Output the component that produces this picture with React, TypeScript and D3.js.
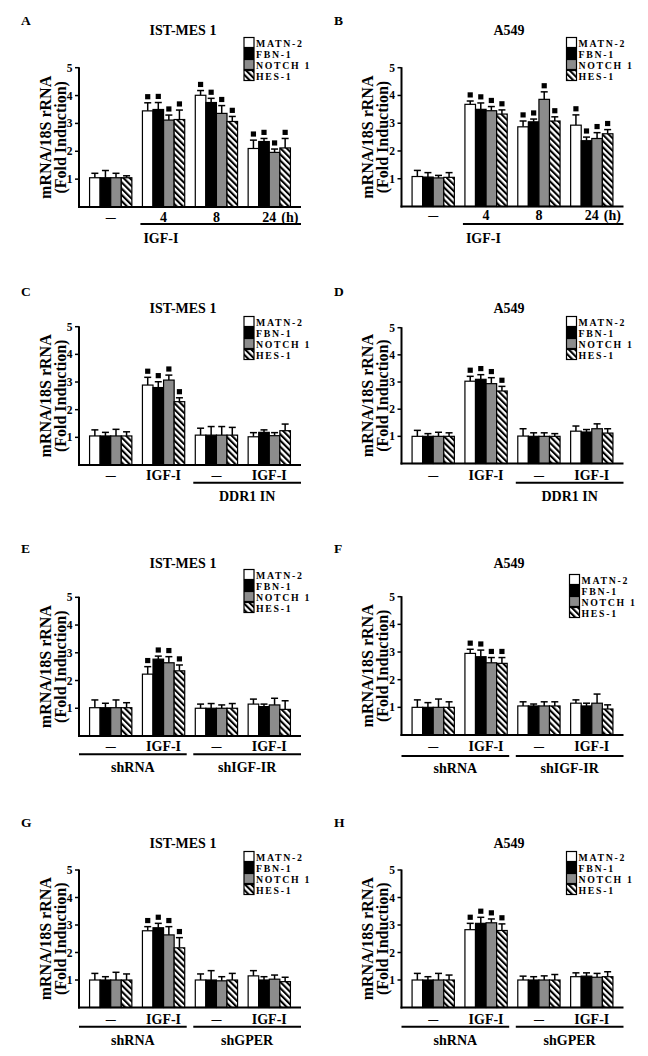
import React from "react";
import * as d3 from "d3";

const FONT = "'Liberation Serif', 'Times New Roman', Times, serif";
const SERIES = ["MATN-2", "FBN-1", "NOTCH 1", "HES-1"];
const FILLS = ["#ffffff", "#000000", "#8c8c8c", "url(#hatch)"];
const Y_TICKS = [1, 2, 3, 4, 5];
const Y_TITLE_1 = "mRNA/18S rRNA";
const Y_TITLE_2 = "(Fold Induction)";

// group (x) labels
const TIME_GROUPS = ["—", "4", "8", "24"];
const TREAT_GROUPS = ["—", "IGF-I", "—", "IGF-I"];

// values: [series][group]
const A_MEAN = [[1.05, 3.45, 4.01, 2.10], [1.05, 3.50, 3.75, 2.35], [1.05, 3.12, 3.36, 1.96], [1.05, 3.14, 3.07, 2.12]];
const A_SEM = [[0.16, 0.29, 0.17, 0.30], [0.26, 0.25, 0.15, 0.11], [0.16, 0.18, 0.28, 0.12], [0.07, 0.34, 0.18, 0.34]];
const B_MEAN = [[1.08, 3.68, 2.87, 2.93], [1.06, 3.50, 3.05, 2.37], [1.03, 3.45, 3.86, 2.45], [1.05, 3.33, 3.08, 2.62]];
const B_SEM = [[0.22, 0.12, 0.21, 0.37], [0.16, 0.23, 0.10, 0.13], [0.09, 0.15, 0.27, 0.21], [0.17, 0.15, 0.15, 0.15]];
const C_MEAN = [[1.05, 2.89, 1.08, 1.02], [1.05, 2.80, 1.08, 1.18], [1.05, 3.07, 1.08, 1.06], [1.05, 2.29, 1.08, 1.24]];
const C_SEM = [[0.22, 0.28, 0.25, 0.15], [0.13, 0.21, 0.31, 0.09], [0.24, 0.18, 0.31, 0.11], [0.15, 0.14, 0.28, 0.24]];
const D_MEAN = [[1.00, 3.03, 1.01, 1.19], [1.00, 3.10, 1.00, 1.16], [1.00, 2.94, 1.00, 1.28], [1.00, 2.67, 1.00, 1.12]];
const D_SEM = [[0.22, 0.18, 0.27, 0.19], [0.10, 0.17, 0.13, 0.09], [0.15, 0.22, 0.13, 0.18], [0.13, 0.17, 0.10, 0.16]];
const E_MEAN = [[1.02, 2.23, 1.00, 1.15], [1.02, 2.77, 1.00, 1.06], [1.02, 2.64, 1.00, 1.12], [1.02, 2.35, 1.00, 0.96]];
const E_SEM = [[0.28, 0.27, 0.15, 0.18], [0.16, 0.11, 0.17, 0.09], [0.28, 0.22, 0.12, 0.24], [0.18, 0.21, 0.17, 0.31]];
const F_MEAN = [[1.00, 2.95, 1.05, 1.15], [1.00, 2.83, 1.05, 1.05], [1.00, 2.61, 1.05, 1.15], [1.00, 2.59, 1.05, 0.94]];
const F_SEM = [[0.27, 0.15, 0.15, 0.12], [0.17, 0.24, 0.07, 0.10], [0.30, 0.19, 0.15, 0.33], [0.20, 0.21, 0.15, 0.15]];
const G_MEAN = [[1.00, 2.79, 1.00, 1.15], [1.00, 2.90, 1.00, 1.00], [1.00, 2.64, 0.97, 1.03], [1.00, 2.17, 1.00, 0.94]];
const G_SEM = [[0.24, 0.15, 0.22, 0.19], [0.12, 0.16, 0.34, 0.12], [0.28, 0.30, 0.15, 0.15], [0.22, 0.37, 0.24, 0.16]];
const H_MEAN = [[1.00, 2.83, 1.00, 1.12], [1.00, 3.06, 1.00, 1.14], [1.00, 3.08, 1.00, 1.10], [1.00, 2.80, 1.00, 1.12]];
const H_SEM = [[0.24, 0.23, 0.14, 0.14], [0.12, 0.22, 0.12, 0.12], [0.24, 0.14, 0.15, 0.14], [0.18, 0.24, 0.20, 0.18]];

// significance per group
const SIG_TIME = [false, true, true, true];
const SIG_IGF = [false, true, false, false];

type Bracket = { from: number; to: number; label: string; align: "start" | "middle" };

const BR_TIME: Bracket[] = [{ from: 1, to: 3, label: "IGF-I", align: "start" }];
const BR_DDR: Bracket[] = [{ from: 2, to: 3, label: "DDR1 IN", align: "middle" }];
const BR_SHIGF: Bracket[] = [
  { from: 0, to: 1, label: "shRNA", align: "middle" },
  { from: 2, to: 3, label: "shIGF-IR", align: "middle" },
];
const BR_SHGPER: Bracket[] = [
  { from: 0, to: 1, label: "shRNA", align: "middle" },
  { from: 2, to: 3, label: "shGPER", align: "middle" },
];

const PANELS = [
  { letter: "A", title: "IST-MES 1", groups: TIME_GROUPS, unit: true, mean: A_MEAN, sem: A_SEM, sig: SIG_TIME, brackets: BR_TIME,
    col: 0, letterY: 20, titleY: 30, legendTop: 37.5, y5: 67.7, y0: 207, xLabelY: 217, bracketY: 224, bracketLabelY: 238 },
  { letter: "B", title: "A549", groups: TIME_GROUPS, unit: true, mean: B_MEAN, sem: B_SEM, sig: SIG_TIME, brackets: BR_TIME,
    col: 1, letterY: 20, titleY: 30, legendTop: 37.5, y5: 67.7, y0: 206.5, xLabelY: 215, bracketY: 224, bracketLabelY: 238 },
  { letter: "C", title: "IST-MES 1", groups: TREAT_GROUPS, unit: false, mean: C_MEAN, sem: C_SEM, sig: SIG_IGF, brackets: BR_DDR,
    col: 0, letterY: 291.7, titleY: 308, legendTop: 316.5, y5: 326.7, y0: 465, xLabelY: 475, bracketY: 482.7, bracketLabelY: 496.7 },
  { letter: "D", title: "A549", groups: TREAT_GROUPS, unit: false, mean: D_MEAN, sem: D_SEM, sig: SIG_IGF, brackets: BR_DDR,
    col: 1, letterY: 291.7, titleY: 308, legendTop: 316.5, y5: 327.7, y0: 463.5, xLabelY: 475, bracketY: 482.7, bracketLabelY: 496.7 },
  { letter: "E", title: "IST-MES 1", groups: TREAT_GROUPS, unit: false, mean: E_MEAN, sem: E_SEM, sig: SIG_IGF, brackets: BR_SHIGF,
    col: 0, letterY: 548.3, titleY: 563.3, legendTop: 569.5, y5: 597.3, y0: 736, xLabelY: 746.7, bracketY: 754.3, bracketLabelY: 767.5 },
  { letter: "F", title: "A549", groups: TREAT_GROUPS, unit: false, mean: F_MEAN, sem: F_SEM, sig: SIG_IGF, brackets: BR_SHIGF,
    col: 1, letterY: 548, titleY: 563, legendTop: 574.5, y5: 596.7, y0: 735, xLabelY: 746.7, bracketY: 756, bracketLabelY: 768.5, legendShift: 3 },
  { letter: "G", title: "IST-MES 1", groups: TREAT_GROUPS, unit: false, mean: G_MEAN, sem: G_SEM, sig: SIG_IGF, brackets: BR_SHGPER,
    col: 0, letterY: 822.7, titleY: 843.3, legendTop: 851.5, y5: 870, y0: 1007.5, xLabelY: 1019, bracketY: 1026.7, bracketLabelY: 1040.7 },
  { letter: "H", title: "A549", groups: TREAT_GROUPS, unit: false, mean: H_MEAN, sem: H_SEM, sig: SIG_IGF, brackets: BR_SHGPER,
    col: 1, letterY: 822.7, titleY: 843.3, legendTop: 851.5, y5: 870, y0: 1007.5, xLabelY: 1019, bracketY: 1026.7, bracketLabelY: 1040.7 },
];

const COL_AXIS_X = [79, 401.5];
const COL_LETTER_X = [21, 334];
const COL_TITLE_X = [183, 509];
const PLOT_W = 222;
const LEGEND_ROW = 11;

function Panel({ p }: { p: any }) {
  const ox = COL_AXIS_X[p.col];
  const gIdx = [0, 1, 2, 3];
  const x = d3.scaleBand<number>().domain(gIdx).range([ox, ox + PLOT_W]).paddingInner(0.2).paddingOuter(0.2);
  const xs = d3.scaleBand<string>().domain(SERIES).range([0, x.bandwidth()]);
  const y = d3.scaleLinear().domain([0, 5]).range([p.y0, p.y5]);
  const bw = xs.bandwidth();
  const legendX = ox + 165 + (p.legendShift || 0);
  const yMid = (p.y0 + p.y5) / 2;

  return (
    <g>
      <text x={COL_LETTER_X[p.col]} y={p.letterY} dominantBaseline="central" fontSize={13.5} fontWeight="bold">{p.letter}</text>
      <text x={COL_TITLE_X[p.col]} y={p.titleY} dominantBaseline="central" textAnchor="middle" fontSize={14} fontWeight="bold">{p.title}</text>

      {/* legend */}
      {SERIES.map((s, i) => {
        const top = p.legendTop + i * LEGEND_ROW;
        return (
          <g key={s}>
            <rect x={legendX} y={top} width={10} height={10} fill={FILLS[i]} stroke="#000" strokeWidth={1.2} />
            <text x={legendX + 12} y={top + 5.5} dominantBaseline="central" fontSize={9.8} letterSpacing={1.7} fontWeight="bold">{s}</text>
          </g>
        );
      })}

      {/* y axis title */}
      <g transform={`translate(${ox - 34},${yMid}) rotate(-90)`}>
        <text textAnchor="middle" dominantBaseline="central" fontSize={16} fontWeight="bold">{Y_TITLE_1}</text>
      </g>
      <g transform={`translate(${ox - 19},${yMid}) rotate(-90)`}>
        <text textAnchor="middle" dominantBaseline="central" fontSize={16} fontWeight="bold">{Y_TITLE_2}</text>
      </g>

      {/* bars */}
      {SERIES.map((s, si) =>
        gIdx.map((g) => {
          const m = p.mean[si][g];
          const e = p.sem[si][g];
          const bx = (x(g) as number) + (xs(s) as number);
          const cx = bx + bw / 2;
          const yTop = y(m);
          const yErr = y(m + e);
          return (
            <g key={s + g}>
              <line x1={cx} x2={cx} y1={yTop} y2={yErr} stroke="#000" strokeWidth={1.5} />
              <line x1={cx - 3.5} x2={cx + 3.5} y1={yErr} y2={yErr} stroke="#000" strokeWidth={1.5} />
              <rect x={bx} y={yTop} width={bw} height={y(0) - yTop} fill={FILLS[si]} stroke="#000" strokeWidth={1.2} />
              {p.sig[g] && <rect x={cx - 2.6} y={yErr - 3.5 - 5.2} width={5.2} height={5.2} fill="#000" />}
            </g>
          );
        })
      )}

      {/* axes */}
      <line x1={ox} x2={ox} y1={p.y5 - 0.5} y2={p.y0 + 1} stroke="#000" strokeWidth={2} />
      <line x1={ox - 1} x2={ox + PLOT_W} y1={p.y0} y2={p.y0} stroke="#000" strokeWidth={2} />
      {Y_TICKS.map((t) => (
        <g key={t}>
          <line x1={ox - 4} x2={ox} y1={y(t)} y2={y(t)} stroke="#000" strokeWidth={1.5} />
          <text x={ox - 6.5} y={y(t)} textAnchor="end" dominantBaseline="central" fontSize={11.5} fontWeight="bold">{t}</text>
        </g>
      ))}

      {/* x labels */}
      {p.groups.map((lab: string, g: number) => {
        const cx = (x(g) as number) + x.bandwidth() / 2;
        if (lab === "—") {
          return <text key={g} x={cx} y={p.xLabelY} textAnchor="middle" dominantBaseline="central" fontSize={14} fontWeight="bold" textLength={10} lengthAdjust="spacingAndGlyphs">{lab}</text>;
        }
        return (
          <g key={g}>
            <text x={cx} y={p.xLabelY} textAnchor="middle" dominantBaseline="central" fontSize={14} fontWeight="bold">{lab}</text>
            {p.unit && g === 3 && <text x={cx + 12} y={p.xLabelY} dominantBaseline="central" fontSize={14} fontWeight="bold">(h)</text>}
          </g>
        );
      })}

      {/* brackets */}
      {p.brackets.map((b: Bracket, i: number) => {
        const x1 = b.from === 0 ? ox : (x(b.from) as number) - 2;
        const x2 = b.to === 3 ? ox + PLOT_W : (x(b.to) as number) + x.bandwidth() + 2;
        return (
          <g key={i}>
            <line x1={x1} x2={x2} y1={p.bracketY} y2={p.bracketY} stroke="#000" strokeWidth={2} />
            <text x={b.align === "start" ? x1 + 3 : (x1 + x2) / 2} y={p.bracketLabelY} textAnchor={b.align} dominantBaseline="central" fontSize={14} fontWeight="bold">{b.label}</text>
          </g>
        );
      })}
    </g>
  );
}

export default function App() {
  return (
    <svg width={648} height={1056} style={{ position: "absolute", left: 0, top: 0, background: "#fff" }} fontFamily={FONT}>
      <defs>
        <pattern id="hatch" patternUnits="userSpaceOnUse" width={4.4} height={4.4} patternTransform="rotate(-45)">
          <rect width={4.4} height={4.4} fill="#fff" />
          <rect width={2.1} height={4.4} fill="#000" />
        </pattern>
      </defs>
      <rect width={648} height={1056} fill="#fff" />
      {PANELS.map((p) => <Panel key={p.letter} p={p} />)}
    </svg>
  );
}
